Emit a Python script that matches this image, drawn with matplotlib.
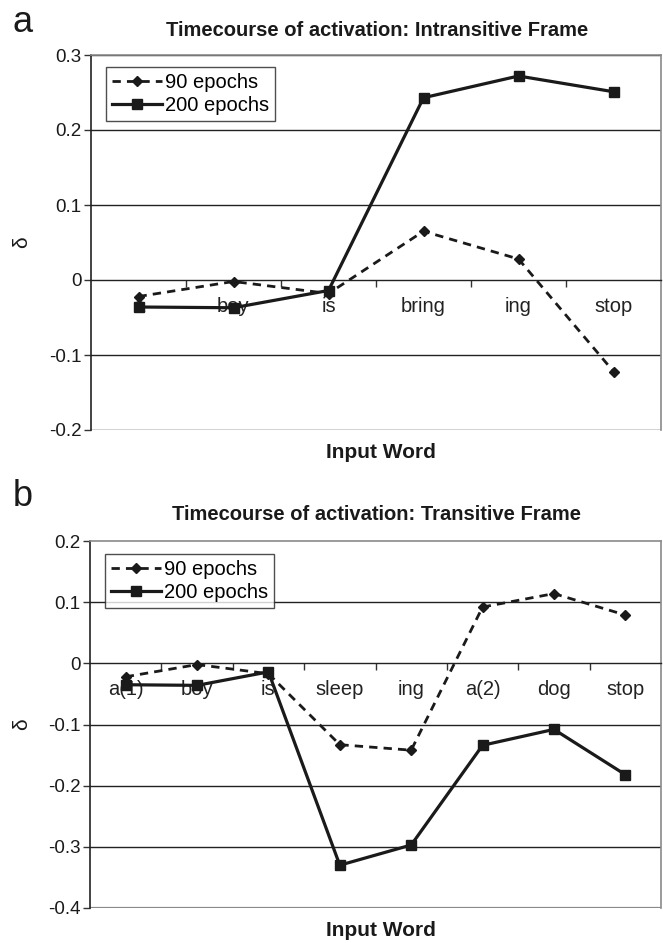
import matplotlib
matplotlib.use("Agg")
import matplotlib.pyplot as plt
from matplotlib.ticker import FixedLocator, NullFormatter

# ---------------- data ----------------
words_a = ["a", "boy", "is", "bring", "ing", "stop"]
ep90_a = [-0.022, -0.002, -0.018, 0.065, 0.028, -0.122]
ep200_a = [-0.036, -0.037, -0.014, 0.243, 0.272, 0.251]
yticks_a = [-0.2, -0.1, 0.0, 0.1, 0.2, 0.3]
yticklabels_a = ["-0.2", "-0.1", "0", "0.1", "0.2", "0.3"]

words_b = ["a(1)", "boy", "is", "sleep", "ing", "a(2)", "dog", "stop"]
ep90_b = [-0.022, -0.002, -0.017, -0.133, -0.142, 0.092, 0.114, 0.079]
ep200_b = [-0.035, -0.036, -0.014, -0.330, -0.297, -0.134, -0.108, -0.182]
yticks_b = [-0.4, -0.3, -0.2, -0.1, 0.0, 0.1, 0.2]
yticklabels_b = ["-0.4", "-0.3", "-0.2", "-0.1", "0", "0.1", "0.2"]

series_labels = ["90 epochs", "200 epochs"]
titles = ["Timecourse of activation: Intransitive Frame",
          "Timecourse of activation: Transitive Frame"]
panel_letters = ["a", "b"]
xlabel = "Input Word"
ylabel = "δ"

NARROW = ["Liberation Sans Narrow", "Liberation Sans", "DejaVu Sans"]
SANS = ["Liberation Sans", "DejaVu Sans"]
plt.rcParams["font.family"] = SANS

W, H = 663, 943
fig = plt.figure(figsize=(W / 100, H / 100), dpi=100)


def px_axes(left, top, right, bottom):
    return fig.add_axes([left / W, 1 - bottom / H, (right - left) / W, (bottom - top) / H])


def draw(ax, words, s90, s200, yt, ytl, legend_top, edge_grid):
    n = len(words)
    x = list(range(n))
    ax.set_xlim(-0.5, n - 0.5)
    ax.set_ylim(yt[0], yt[-1])
    ax.set_yticks(yt)
    ax.set_yticklabels(ytl, fontsize=13.5, family=SANS, color="#1a1a1a")
    ax.tick_params(axis="y", direction="out", length=5, width=1, color="#333333", pad=2)
    for v in yt:
        if v == 0:
            continue
        if not edge_grid and v in (yt[0], yt[-1]):
            continue
        ax.axhline(v, color="#222222", lw=1.0, zorder=1)
    # x axis sits on zero line, ticks between categories
    ax.spines["bottom"].set_position(("data", 0))
    ax.spines["bottom"].set_color("#222222")
    ax.spines["bottom"].set_linewidth(1.0)
    ax.xaxis.set_major_locator(FixedLocator([i + 0.5 for i in range(n - 1)]))
    ax.xaxis.set_major_formatter(NullFormatter())
    ax.tick_params(axis="x", direction="out", length=5, width=1, color="#333333")
    ax.spines["left"].set_color("#222222")
    ax.spines["left"].set_linewidth(1.2)
    for s in ("top", "right"):
        ax.spines[s].set_color("#8a8a8a")
        ax.spines[s].set_linewidth(1.2)
    if not edge_grid:
        ax.axhline(yt[0], color="#8a8a8a", lw=1.6, zorder=1)
    for i, w in enumerate(words):
        ax.annotate(w, xy=(i, 0), xytext=(0, -19), textcoords="offset points",
                    ha="center", va="center", fontsize=14.5, family=SANS,
                    color="#222222", zorder=2)
    l1, = ax.plot(x, s90, color="#1a1a1a", lw=2.0, linestyle=(0, (3, 2.2)),
                  marker="D", markersize=5.5, zorder=4, label=series_labels[0])
    l2, = ax.plot(x, s200, color="#1a1a1a", lw=2.3, linestyle="-",
                  marker="s", markersize=7.5, zorder=5, label=series_labels[1])
    leg = ax.legend(handles=[l1, l2], loc="upper left", bbox_to_anchor=(0.026, legend_top),
                    borderaxespad=0, frameon=True, fancybox=False,
                    edgecolor="#222222", handlelength=2.5, handletextpad=0.15,
                    borderpad=0.3, labelspacing=0.2, prop={"family": SANS, "size": 14.5})
    leg.get_frame().set_linewidth(1.0)
    leg.set_zorder(6)


ax1 = px_axes(91, 55, 661, 430)
draw(ax1, words_a, ep90_a, ep200_a, yticks_a, yticklabels_a, 0.968, True)
ax2 = px_axes(90, 541, 661, 908)
draw(ax2, words_b, ep90_b, ep200_b, yticks_b, yticklabels_b, 0.965, False)

# titles, labels
fig.text(377 / W, 1 - 31 / H, titles[0], ha="center", va="center", fontsize=14.5,
         fontweight="bold", family=NARROW, color="#1a1a1a")
fig.text(377 / W, 1 - 515 / H, titles[1], ha="center", va="center", fontsize=14.5,
         fontweight="bold", family=NARROW, color="#1a1a1a")
fig.text(381 / W, 1 - 453 / H, xlabel, ha="center", va="center", fontsize=15,
         fontweight="bold", family=SANS, color="#1a1a1a")
fig.text(381 / W, 1 - 930 / H, xlabel, ha="center", va="center", fontsize=15,
         fontweight="bold", family=SANS, color="#1a1a1a")
fig.text(22 / W, 1 - ((55 + 430) / 2) / H, ylabel, ha="center", va="center", rotation=90,
         fontsize=15, family=SANS, color="#1a1a1a")
fig.text(22 / W, 1 - ((541 + 908) / 2) / H, ylabel, ha="center", va="center", rotation=90,
         fontsize=15, family=SANS, color="#1a1a1a")
fig.text(13 / W, 1 - 22 / H, panel_letters[0], ha="left", va="center", fontsize=26,
         family=SANS, color="#1a1a1a")
fig.text(13 / W, 1 - 497 / H, panel_letters[1], ha="left", va="center", fontsize=26,
         family=SANS, color="#1a1a1a")

fig.savefig("out.png", dpi=100)
